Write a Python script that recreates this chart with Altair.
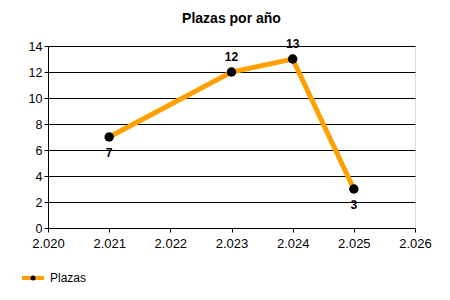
import altair as alt
import pandas as pd

years = [2021, 2023, 2024, 2025]
plazas = [7, 12, 13, 3]
series_name = "Plazas"
title_text = "Plazas por año"
x_ticks = [2020, 2021, 2022, 2023, 2024, 2025, 2026]
y_ticks = [0, 2, 4, 6, 8, 10, 12, 14]

df = pd.DataFrame({"year": years, "plazas": plazas})
legend_df = pd.DataFrame({"name": [series_name]})

ORANGE = "#FFA000"
FONT = "Liberation Sans"

x_enc = alt.X(
    "year:Q",
    scale=alt.Scale(domain=[2020, 2026], nice=False, zero=False),
    axis=alt.Axis(
        values=x_ticks,
        labelExpr="replace(format(datum.value, ','), ',', '.')",
        grid=False, title=None, domainColor="black", tickColor="black",
        tickSize=4, labelFontSize=13, labelColor="black", labelFont=FONT,
        labelPadding=5, labelFlush=False, labelOverlap=False,
    ),
)
y_enc = alt.Y(
    "plazas:Q",
    scale=alt.Scale(domain=[0, 14], nice=False),
    axis=alt.Axis(
        values=y_ticks, tickCount=8, grid=True, gridColor="black", gridOpacity=1,
        title=None, domainColor="black", tickColor="black", tickSize=4,
        labelFontSize=12.5, labelColor="black", labelFont=FONT, labelPadding=2,
        labelOverlap=False, labelFlush=False,
    ),
)

base = alt.Chart(df).encode(x=x_enc, y=y_enc)
line = base.mark_line(color=ORANGE, strokeWidth=5)
points = base.mark_circle(color="black", size=90, opacity=1)
labels_above = base.transform_filter("datum.plazas >= 10").mark_text(
    dy=-15, fontWeight="bold", fontSize=12, font=FONT, color="black"
).encode(text="plazas:Q")
labels_below = base.transform_filter("datum.plazas < 10").mark_text(
    dy=16, fontWeight="bold", fontSize=12, font=FONT, color="black"
).encode(text="plazas:Q")

leg = alt.Chart(legend_df)
leg_line = leg.mark_rule(color=ORANGE, strokeWidth=4, clip=False).encode(
    x=alt.value(-26), x2=alt.value(-4), y=alt.value(232)
)
leg_dot = leg.mark_circle(color="black", size=25, opacity=1, clip=False).encode(
    x=alt.value(-15), y=alt.value(232)
)
leg_text = leg.mark_text(align="left", baseline="middle", fontSize=12, font=FONT,
                         color="black", clip=False).encode(
    x=alt.value(2), y=alt.value(232), text="name:N"
)

chart = alt.layer(line, points, labels_above, labels_below, leg_line, leg_dot, leg_text).properties(
    width=367, height=182,
    title=alt.TitleParams(title_text, fontSize=14, fontWeight="bold", font=FONT,
                          color="black", anchor="middle", offset=12),
    autosize=alt.AutoSizeParams(type="none"),
    padding={"left": 48, "top": 46, "right": 35, "bottom": 72},
).configure_view(stroke=None).configure(background="white")

chart.save("out.html", embed_options={"renderer": "svg", "actions": False})
